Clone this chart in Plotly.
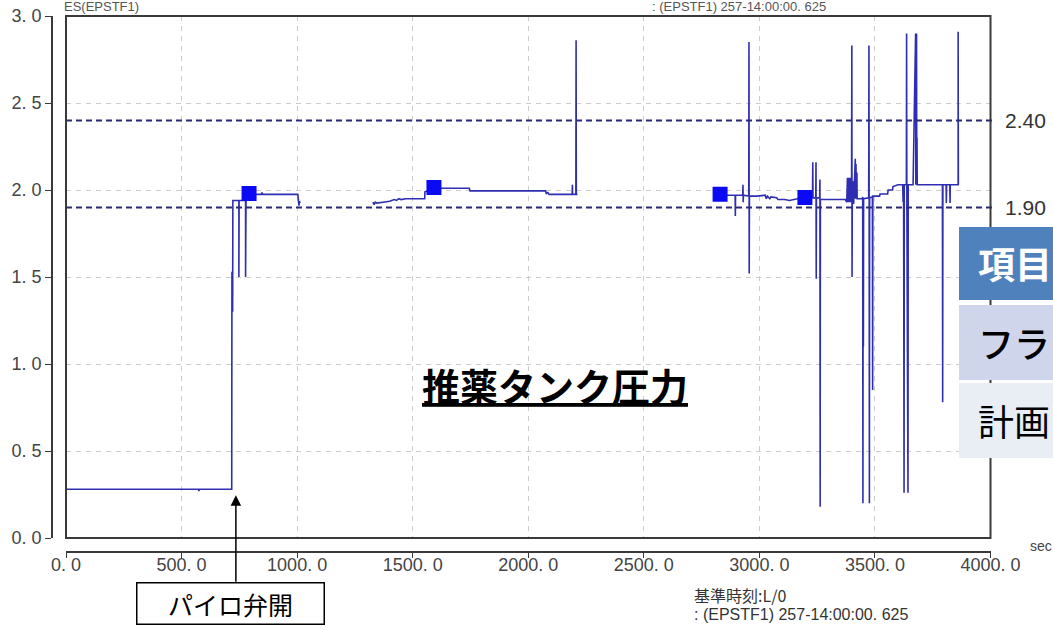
import plotly.graph_objects as go

W, H = 1053, 630

# Propellant tank pressure record: time [s] and pressure [MPa]; None marks data gaps
time_s = [
    0, 573, 575, 577, 717, 717, 718, 719, 720, 721, 722, 722, 748, 748, 749,
    777, 777, 779, 800, 845, 848, 851, 1003, 1004, 1008, 1010, 1013, None,
    1328, 1333, 1338, 1345, 1372, 1400, 1420, 1430, 1440, 1450, 1470, 1500,
    1552, 1553, 1575, 1610, 1745, 1748, 2075, 2078, 2085, 2090, 2190, 2191,
    2192, 2206, 2207, 2208, 2213, None,
    2800, 2860, 2895, 2896, 2897, 2928, 2929, 2930, 2931, 2954, 2955, 2956,
    2957, 2990, 3025, 3030, 3035, 3045, 3050, 3075, 3080, 3110, 3130, 3165,
    3215, 3230, 3231, 3232, 3244, 3245, 3246, 3247, 3261, 3262, 3263, 3264,
    3300, 3372, 3378, 3381, 3384, 3387, 3390, 3393, 3396, 3399, 3400, 3401,
    3402, 3405, 3408, 3411, 3415, 3416, 3418, 3419, 3422, 3423, 3445, 3446,
    3447, 3448, 3449, 3450, 3451, 3473, 3474, 3475, 3476, 3477, 3489, 3490,
    3491, 3520, 3522, 3555, 3557, 3576, 3578, 3600, 3620, 3622, 3624, 3626,
    3627, 3636, 3637, 3638, 3643, 3644, 3665, 3676, 3677, 3678, 3679, 3680,
    3681, 3682, 3683, 3685, 3792, 3793, 3794, 3808, 3809, 3810, 3824, 3825,
    3826, 3860, 3860, 3861,
]
pressure_mpa = [
    0.28, 0.28, 0.27, 0.28, 0.28, 1.26, 1.53, 1.27, 1.52, 1.30, 1.50, 1.94, 1.94, 1.50, 1.94,
    1.94, 1.50, 1.975, 1.975, 1.975, 1.985, 1.975, 1.975, 1.94, 1.91, 1.935, 1.925, None,
    1.93, 1.915, 1.93, 1.925, 1.93, 1.935, 1.945, 1.94, 1.95, 1.945, 1.95, 1.95,
    1.95, 1.99, 2.0, 2.01, 2.01, 1.995, 1.995, 1.98, 1.985, 1.975, 1.975, 2.03,
    1.975, 1.975, 2.86, 1.975, 1.975, None,
    1.97, 1.97, 1.97, 1.85, 1.97, 1.97, 2.03, 1.93, 1.97, 1.965, 2.85, 1.52,
    1.965, 1.965, 1.97, 1.95, 1.965, 1.95, 1.96, 1.955, 1.945, 1.945, 1.94, 1.95,
    1.955, 1.955, 2.16, 1.955, 1.955, 2.16, 1.49, 1.955, 1.955, 2.06, 0.18, 1.945,
    1.945, 1.945, 1.93, 2.07, 1.93, 2.07, 1.93, 2.07, 1.93, 2.07, 2.83, 1.50,
    1.95, 2.05, 1.92, 2.04, 2.18, 1.95, 2.15, 1.95, 2.10, 1.95, 1.95, 1.08,
    1.96, 0.20, 1.95, 1.10, 1.95, 1.955, 2.83, 1.95, 0.20, 1.955, 1.96, 0.85,
    1.965, 1.965, 1.977, 1.977, 2.0, 2.0, 2.02, 2.03, 2.03, 1.93, 2.03, 0.26,
    2.03, 2.03, 2.90, 2.03, 0.26, 2.03, 2.03, 2.90, 2.03, 2.30, 2.03, 2.90,
    2.04, 2.30, 2.03, 2.03, 2.03, 0.78, 2.03, 2.03, 1.925, 2.03, 2.03, 1.925,
    2.03, 2.03, 2.91, 2.03,
]

# Dense sample clusters rendered as solid blocks
cluster_t = [792, 1592, 2830, 3197]
cluster_p = [1.98, 2.015, 1.975, 1.957]

# Upper / lower pressure limits
limit_values = [2.40, 1.90]
limit_labels = ["2.40", "1.90"]

x_tickvals = [0, 500, 1000, 1500, 2000, 2500, 3000, 3500, 4000]
x_ticktext = ["0. 0", "500. 0", "1000. 0", "1500. 0", "2000. 0",
              "2500. 0", "3000. 0", "3500. 0", "4000. 0"]
y_tickvals = [0.0, 0.5, 1.0, 1.5, 2.0, 2.5, 3.0]
y_ticktext = ["0. 0", "0. 5", "1. 0", "1. 5", "2. 0", "2. 5", "3. 0"]

# Left column of the comparison table at the right edge
table_rows = ["項目", "フラ", "計画"]


def px(x):
    return x / W


def py(y):
    return 1 - y / H


LINE_BLUE = "#2E2EB2"
TICK_FONT = dict(family="Liberation Sans, Arial, sans-serif", size=18, color="#444444")
JP = "Noto Sans CJK JP"

fig = go.Figure()
fig.add_trace(go.Scatter(
    x=time_s, y=pressure_mpa, mode="lines",
    line=dict(color=LINE_BLUE, width=1.6), connectgaps=False,
    hoverinfo="skip", showlegend=False,
))
fig.add_trace(go.Scatter(
    x=cluster_t, y=cluster_p, mode="markers",
    marker=dict(symbol="square", size=15, color="#0A0AF5", line=dict(width=0)),
    hoverinfo="skip", showlegend=False,
))

shapes = []
# limit lines
for v in limit_values:
    shapes.append(dict(type="line", xref="paper", yref="y", x0=px(66), x1=px(992), y0=v, y1=v,
                       line=dict(color="#2A2A78", width=2, dash="6px,4px"), layer="above"))
# plot frame
shapes.append(dict(type="rect", xref="paper", yref="paper",
                   x0=px(66), x1=px(990.5), y0=py(538), y1=py(16),
                   line=dict(color="#3A3A3A", width=2), layer="above"))

# table cells on the right
table_boxes = [(227, 300, "#4F81BD"), (305, 380, "#CFD5EA"), (383, 458, "#E9EDF4")]
for y0, y1, col in table_boxes:
    shapes.append(dict(type="rect", xref="paper", yref="paper",
                       x0=px(959), x1=px(1060), y0=py(y1), y1=py(y0),
                       fillcolor=col, line=dict(width=0), layer="above"))

annotations = []
for v, lab in zip(limit_values, limit_labels):
    annotations.append(dict(xref="paper", yref="y", x=px(1003), y=v, text=lab,
                            xanchor="left", yanchor="middle", showarrow=False,
                            font=dict(family="Liberation Sans, Arial", size=21, color="#333333")))

row_y = [263, 342, 420]
row_font = [dict(family=JP, size=37, color="white", weight="bold"),
            dict(family=JP, size=36, color="black", weight=500),
            dict(family=JP, size=36, color="black")]
for txt, yc, f in zip(table_rows, row_y, row_font):
    annotations.append(dict(xref="paper", yref="paper", x=px(976), y=py(yc), text=txt,
                            xanchor="left", yanchor="middle", showarrow=False, font=f))

# chart title
annotations.append(dict(xref="paper", yref="paper", x=px(555), y=py(384),
                        text="<b><u>推薬タンク圧力</u></b>", showarrow=False,
                        xanchor="center", yanchor="middle",
                        font=dict(family=JP, size=38, color="black")))

# pyro valve event
annotations.append(dict(xref="x", yref="y", x=735, y=0.245, text="", showarrow=True,
                        ax=0, ay=88, arrowhead=2, arrowsize=1.4, arrowwidth=1.5,
                        arrowcolor="black"))
annotations.append(dict(xref="paper", yref="paper", x=px(230), y=py(603),
                        text="パイロ弁開", showarrow=False, xanchor="center", yanchor="middle",
                        width=182, height=36, borderpad=2, borderwidth=1.5,
                        bordercolor="black", bgcolor="white",
                        font=dict(family=JP, size=25, color="black")))

# axis unit and reference time captions
annotations.append(dict(xref="paper", yref="paper", x=px(1028), y=py(546), text="sec",
                        xanchor="left", yanchor="middle", showarrow=False,
                        font=dict(family="Liberation Sans, Arial", size=14, color="#444444")))
annotations.append(dict(xref="paper", yref="paper", x=px(692), y=py(595), text="基準時刻:L/0",
                        xanchor="left", yanchor="middle", showarrow=False,
                        font=dict(family=JP, size=16, color="#333333")))
annotations.append(dict(xref="paper", yref="paper", x=px(692), y=py(614),
                        text=": (EPSTF1) 257-14:00:00. 625",
                        xanchor="left", yanchor="middle", showarrow=False,
                        font=dict(family="Liberation Sans, Arial", size=16, color="#333333")))
annotations.append(dict(xref="paper", yref="paper", x=px(650), y=py(7),
                        text=": (EPSTF1) 257-14:00:00. 625",
                        xanchor="left", yanchor="middle", showarrow=False,
                        font=dict(family="Liberation Sans, Arial", size=13, color="#555555")))
annotations.append(dict(xref="paper", yref="paper", x=px(62), y=py(7),
                        text="ES(EPSTF1)",
                        xanchor="left", yanchor="middle", showarrow=False,
                        font=dict(family="Liberation Sans, Arial", size=13, color="#555555")))

fig.update_layout(
    width=W, height=H,
    margin=dict(l=0, r=0, t=0, b=0),
    paper_bgcolor="white", plot_bgcolor="white",
    showlegend=False,
    xaxis=dict(
        domain=[px(66), px(990.5)], range=[0, 4000], anchor="free", position=py(552),
        showline=True, linecolor="#3A3A3A", linewidth=1.5,
        ticks="outside", ticklen=5, tickcolor="#3A3A3A",
        tickvals=x_tickvals, ticktext=x_ticktext, tickfont=TICK_FONT,
        ticklabelstandoff=-8,
        showgrid=True, gridcolor="#CDCDC8", gridwidth=1, griddash="5px,5px",
        zeroline=False, automargin=False,
    ),
    yaxis=dict(
        domain=[py(538), py(16)], range=[0, 3], anchor="free", position=px(52),
        showline=True, linecolor="#3A3A3A", linewidth=1.5,
        ticks="outside", ticklen=6, tickcolor="#3A3A3A",
        tickvals=y_tickvals, ticktext=y_ticktext, tickfont=TICK_FONT,
        showgrid=True, gridcolor="#CDCDC8", gridwidth=1, griddash="5px,5px",
        zeroline=False, automargin=False,
    ),
    shapes=shapes,
    annotations=annotations,
)

fig.write_html("out.html")
